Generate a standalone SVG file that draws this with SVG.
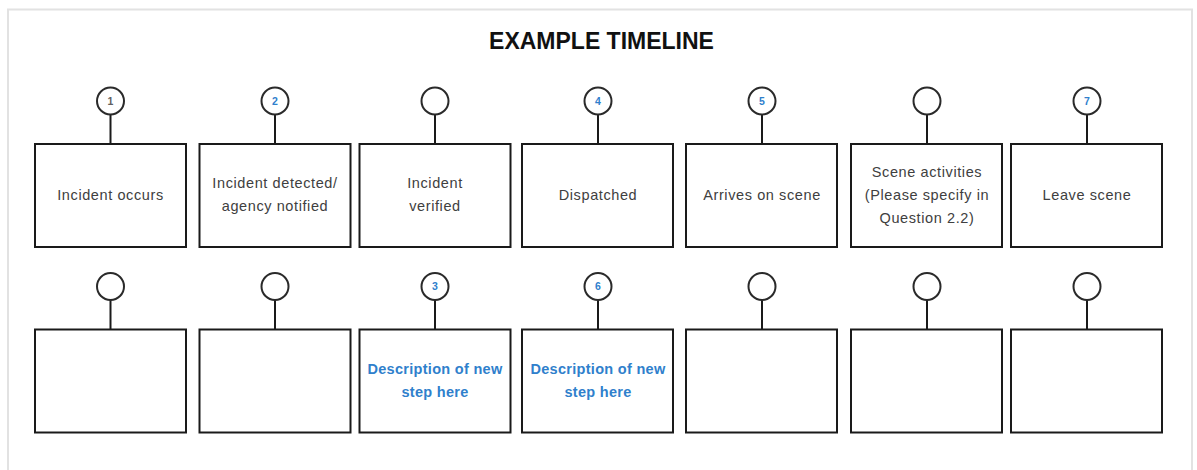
<svg xmlns="http://www.w3.org/2000/svg" width="1197" height="470" viewBox="0 0 1197 470">
  <style>
    .frame { fill: none; stroke: #e2e2e2; stroke-width: 2; }
    .box { fill: #ffffff; stroke: #1a1a1a; stroke-width: 2; }
    .pin { fill: #ffffff; stroke: #2a2a2a; stroke-width: 2; }
    .stem { stroke: #1a1a1a; stroke-width: 2; }
    .title { font-family: "Liberation Sans", Arial, sans-serif; font-weight: bold; font-size: 23px; fill: #111111; }
    .label { font-family: "Liberation Sans", Arial, sans-serif; font-size: 14.5px; letter-spacing: 0.6px; fill: #404040; text-anchor: middle; }
    .new { font-family: "Liberation Sans", Arial, sans-serif; font-weight: bold; font-size: 14.5px; letter-spacing: 0.3px; fill: #2f80cc; text-anchor: middle; }
    .num { font-family: "Liberation Sans", Arial, sans-serif; font-weight: bold; font-size: 10.5px; fill: #2f80cc; text-anchor: middle; }
    .num.grey { fill: #606060; }
  </style>

  <rect class="frame" x="8" y="9.5" width="1184" height="480"/>

  <text class="title" x="601.5" y="49" text-anchor="middle">EXAMPLE TIMELINE</text>

  <!-- stems joining each pin to its box -->
  <g id="connectors">
    <line class="stem" x1="110.5" y1="115" x2="110.5" y2="144"/>
    <line class="stem" x1="275" y1="115" x2="275" y2="144"/>
    <line class="stem" x1="435" y1="115" x2="435" y2="144"/>
    <line class="stem" x1="598" y1="115" x2="598" y2="144"/>
    <line class="stem" x1="762" y1="115" x2="762" y2="144"/>
    <line class="stem" x1="927" y1="115" x2="927" y2="144"/>
    <line class="stem" x1="1087" y1="115" x2="1087" y2="144"/>
    <line class="stem" x1="110.5" y1="300" x2="110.5" y2="329"/>
    <line class="stem" x1="275" y1="300" x2="275" y2="329"/>
    <line class="stem" x1="435" y1="300" x2="435" y2="329"/>
    <line class="stem" x1="598" y1="300" x2="598" y2="329"/>
    <line class="stem" x1="762" y1="300" x2="762" y2="329"/>
    <line class="stem" x1="927" y1="300" x2="927" y2="329"/>
    <line class="stem" x1="1087" y1="300" x2="1087" y2="329"/>
  </g>

  <!-- top row -->
  <g id="step-incident-occurs">
    <circle class="pin" cx="110.5" cy="101" r="13.5"/>
    <text class="num grey" x="110.5" y="104.5">1</text>
    <rect class="box" x="35" y="144" width="151" height="103"/>
    <text class="label" x="110.5" y="200">Incident occurs</text>
  </g>
  <g id="step-detected">
    <circle class="pin" cx="275" cy="101" r="13.5"/>
    <text class="num" x="275" y="104.5">2</text>
    <rect class="box" x="199.5" y="144" width="151" height="103"/>
    <text class="label" x="275" y="188">Incident detected/</text>
    <text class="label" x="275" y="211">agency notified</text>
  </g>
  <g id="step-verified">
    <circle class="pin" cx="435" cy="101" r="13.5"/>
    <rect class="box" x="359.5" y="144" width="151" height="103"/>
    <text class="label" x="435" y="188">Incident</text>
    <text class="label" x="435" y="211">verified</text>
  </g>
  <g id="step-dispatched">
    <circle class="pin" cx="598" cy="101" r="13.5"/>
    <text class="num" x="598" y="104.5">4</text>
    <rect class="box" x="522" y="144" width="151" height="103"/>
    <text class="label" x="598" y="200">Dispatched</text>
  </g>
  <g id="step-arrives">
    <circle class="pin" cx="762" cy="101" r="13.5"/>
    <text class="num" x="762" y="104.5">5</text>
    <rect class="box" x="686" y="144" width="151" height="103"/>
    <text class="label" x="762" y="200">Arrives on scene</text>
  </g>
  <g id="step-scene-activities">
    <circle class="pin" cx="927" cy="101" r="13.5"/>
    <rect class="box" x="851" y="144" width="151" height="103"/>
    <text class="label" x="927" y="177">Scene activities</text>
    <text class="label" x="927" y="200">(Please specify in</text>
    <text class="label" x="927" y="223">Question 2.2)</text>
  </g>
  <g id="step-leave">
    <circle class="pin" cx="1087" cy="101" r="13.5"/>
    <text class="num" x="1087" y="104.5">7</text>
    <rect class="box" x="1011" y="144" width="151" height="103"/>
    <text class="label" x="1087" y="200">Leave scene</text>
  </g>

  <!-- bottom row -->
  <g id="slot-1">
    <circle class="pin" cx="110.5" cy="286.5" r="13.5"/>
    <rect class="box" x="35" y="329.5" width="151" height="103"/>
  </g>
  <g id="slot-2">
    <circle class="pin" cx="275" cy="286.5" r="13.5"/>
    <rect class="box" x="199.5" y="329.5" width="151" height="103"/>
  </g>
  <g id="slot-3">
    <circle class="pin" cx="435" cy="286.5" r="13.5"/>
    <text class="num" x="435" y="290">3</text>
    <rect class="box" x="359.5" y="329.5" width="151" height="103"/>
    <text class="new" x="435" y="373.5">Description of new</text>
    <text class="new" x="435" y="397">step here</text>
  </g>
  <g id="slot-4">
    <circle class="pin" cx="598" cy="286.5" r="13.5"/>
    <text class="num" x="598" y="290">6</text>
    <rect class="box" x="522" y="329.5" width="151" height="103"/>
    <text class="new" x="598" y="373.5">Description of new</text>
    <text class="new" x="598" y="397">step here</text>
  </g>
  <g id="slot-5">
    <circle class="pin" cx="762" cy="286.5" r="13.5"/>
    <rect class="box" x="686" y="329.5" width="151" height="103"/>
  </g>
  <g id="slot-6">
    <circle class="pin" cx="927" cy="286.5" r="13.5"/>
    <rect class="box" x="851" y="329.5" width="151" height="103"/>
  </g>
  <g id="slot-7">
    <circle class="pin" cx="1087" cy="286.5" r="13.5"/>
    <rect class="box" x="1011" y="329.5" width="151" height="103"/>
  </g>
</svg>
